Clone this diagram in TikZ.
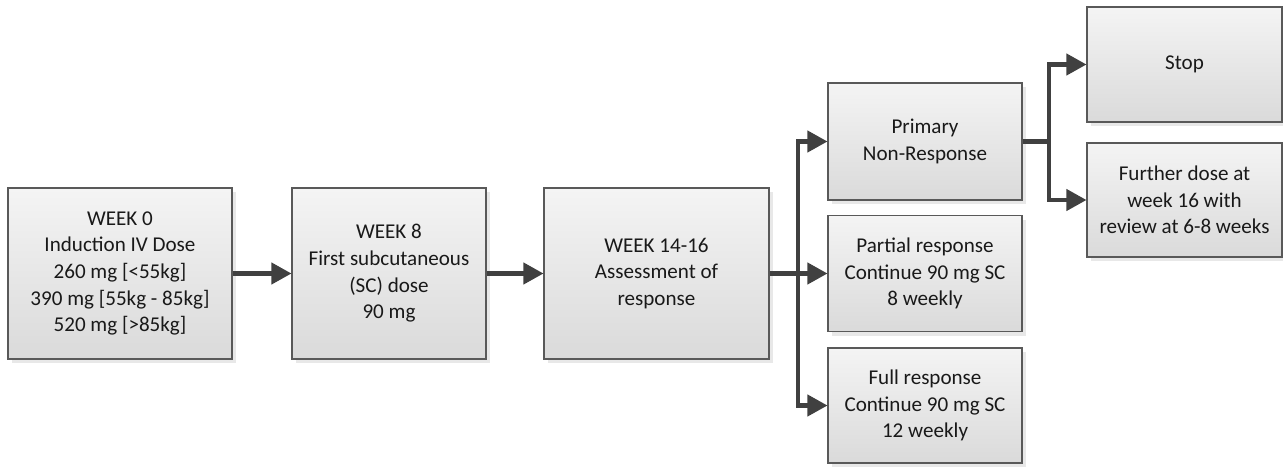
\documentclass[tikz,border=0pt]{standalone}
\usepackage{fontspec}
\setmainfont{Carlito}
\usetikzlibrary{arrows.meta,shadows}

\definecolor{linegray}{HTML}{404040}
\definecolor{edgegray}{HTML}{595959}
\definecolor{toptone}{HTML}{F4F4F4}
\definecolor{bottomtone}{HTML}{DADADA}

\tikzset{
	stagebox/.style={draw=edgegray, line width=0.6pt, top color=toptone, bottom color=bottomtone, align=center, inner sep=0pt, text=black!90, font=\fontsize{12}{15.2}\selectfont, drop shadow={opacity=0.18, shadow xshift=2.5pt, shadow yshift=-2.5pt}},
	flow/.style={draw=linegray, line width=2.3pt, -{Triangle[length=0.4cm, width=0.42cm]}},
	trunk/.style={draw=linegray, line width=2.3pt}
}

\begin{document}
\begin{tikzpicture}[x=0.02cm, y=-0.02cm]
	\useasboundingbox (0,0) rectangle (1283,466);

	\node [stagebox, minimum width=224*0.02cm, minimum height=171*0.02cm] (weekzero) at (120,273.5) {WEEK 0\\Induction IV Dose\\260 mg [<55kg]\\390 mg [55kg - 85kg]\\520 mg [>85kg]};
	\node [stagebox, minimum width=194*0.02cm, minimum height=171*0.02cm] (weekeight) at (389,273.5) {WEEK 8\\First subcutaneous\\(SC) dose\\90 mg};
	\node [stagebox, minimum width=225*0.02cm, minimum height=171*0.02cm] (weekfourteen) at (656.5,273.5) {WEEK 14-16\\Assessment of\\response};

	\node [stagebox, minimum width=194*0.02cm, minimum height=117*0.02cm] (primary) at (925,141.5) {Primary\\Non-Response};
	\node [stagebox, minimum width=194*0.02cm, minimum height=116*0.02cm] (partial) at (925,273.5) {Partial response\\Continue 90 mg SC\\8 weekly};
	\node [stagebox, minimum width=194*0.02cm, minimum height=115*0.02cm] (full) at (925,405.5) {Full response\\Continue 90 mg SC\\12 weekly};

	\node [stagebox, minimum width=195*0.02cm, minimum height=115*0.02cm] (stop) at (1184.5,64.5) {Stop};
	\node [stagebox, minimum width=195*0.02cm, minimum height=114*0.02cm] (further) at (1184.5,200) {Further dose at\\week 16 with\\review at 6-8 weeks};

	\coordinate (responsesplit) at (798,273.5);
	\coordinate (primarysplit) at (1049,141.5);

	\path [flow] (weekzero) -- (weekeight);
	\path [flow] (weekeight) -- (weekfourteen);
	\path [trunk] (weekfourteen.east) -- (responsesplit);
	\path [flow] (responsesplit) |- (primary.west);
	\path [flow] (responsesplit) -- (partial.west);
	\path [flow] (responsesplit) |- (full.west);
	\path [trunk] (primary.east) -- (primarysplit);
	\path [flow] (primarysplit) |- (stop.west);
	\path [flow] (primarysplit) |- (further.west);
\end{tikzpicture}
\end{document}
